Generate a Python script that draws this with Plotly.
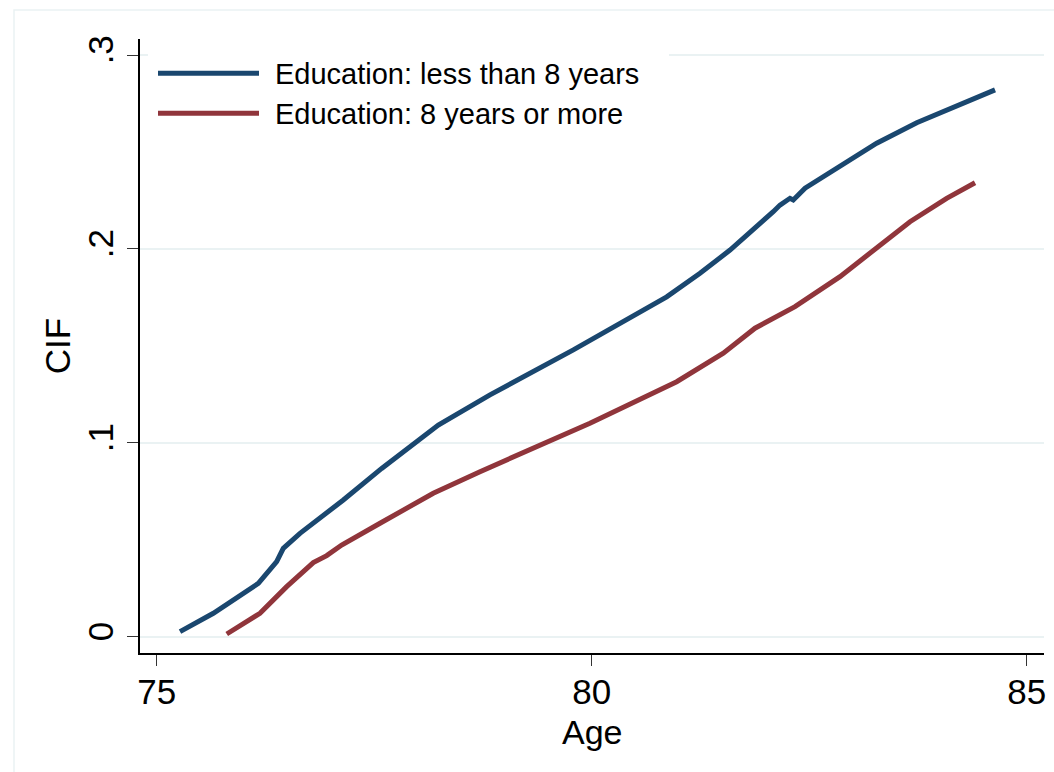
import plotly.graph_objects as go

# Cumulative incidence by age, two education groups
age_low_edu = [75.268, 75.651, 76.168, 76.379, 76.455, 76.647, 77.145, 77.586, 78.237,
               78.831, 79.789, 80.402, 80.862, 81.245, 81.590, 82.087, 82.164, 82.279,
               82.317, 82.452, 82.777, 83.276, 83.736, 84.156, 84.636]
cif_low_edu = [0.0026, 0.0121, 0.0275, 0.0387, 0.0456, 0.0533, 0.0705, 0.0868, 0.1092,
               0.1247, 0.1479, 0.1633, 0.1753, 0.1874, 0.1994, 0.2192, 0.2226, 0.2261,
               0.2252, 0.2313, 0.2407, 0.2545, 0.2651, 0.2733, 0.2820]

age_high_edu = [75.805, 76.187, 76.494, 76.800, 76.954, 77.126, 77.567, 78.179, 78.716,
                79.023, 79.980, 80.977, 81.513, 81.877, 82.337, 82.854, 83.314, 83.659,
                84.080, 84.406]
cif_high_edu = [0.0014, 0.0121, 0.0258, 0.0382, 0.0418, 0.0473, 0.0585, 0.0740, 0.0851,
                0.0911, 0.1101, 0.1315, 0.1462, 0.1591, 0.1702, 0.1857, 0.2020, 0.2140,
                0.2261, 0.2341]

series_names = ["Education: less than 8 years", "Education: 8 years or more"]
series_colors = ["#1A476F", "#90353B"]

x_ticks = [75, 80, 85]
y_ticks = [0, 0.1, 0.2, 0.3]
y_tick_text = ["0", ".1", ".2", ".3"]
x_title = "Age"
y_title = "CIF"

FONT = "Liberation Sans, Arial, sans-serif"
W, H = 1054, 772
L, R, T, B = 140, 10, 39, 119
PW, PH = W - L - R, H - T - B


def px_x(v):
    return (v - L) / PW


def px_y(v):
    return (H - B - v) / PH


fig = go.Figure()
for xs, ys, name, color in [(age_low_edu, cif_low_edu, series_names[0], series_colors[0]),
                            (age_high_edu, cif_high_edu, series_names[1], series_colors[1])]:
    fig.add_trace(go.Scatter(x=xs, y=ys, mode="lines", name=name,
                             line=dict(color=color, width=5), showlegend=False))

shapes = [
    # light outer frame
    dict(type="rect", xref="paper", yref="paper", x0=px_x(14), x1=px_x(1080),
         y0=px_y(800), y1=px_y(10), line=dict(color="#EAF2F3", width=1.5),
         fillcolor="rgba(0,0,0,0)", layer="below"),
    # legend background
    dict(type="rect", xref="paper", yref="paper", x0=px_x(148), x1=px_x(669),
         y0=px_y(135), y1=1.0, line=dict(width=0), fillcolor="white", layer="above"),
]
annotations = []
for i, (name, color) in enumerate(zip(series_names, series_colors)):
    yc = 73.3 + 40 * i
    shapes.append(dict(type="line", xref="paper", yref="paper", x0=px_x(158), x1=px_x(259),
                       y0=px_y(yc), y1=px_y(yc), line=dict(color=color, width=5),
                       layer="above"))
    annotations.append(dict(text=name, xref="paper", yref="paper", x=px_x(273),
                            y=px_y(yc + 1), xanchor="left", yanchor="middle",
                            showarrow=False, font=dict(family=FONT, size=29, color="black")))

# x-axis title placed just under the tick labels
annotations.append(dict(text=x_title, xref="paper", yref="paper", x=0.5, y=px_y(732),
                        xanchor="center", yanchor="middle", showarrow=False,
                        font=dict(family=FONT, size=34, color="black")))

fig.update_layout(
    width=W, height=H,
    margin=dict(l=L, r=R, t=T, b=B, autoexpand=False),
    paper_bgcolor="white", plot_bgcolor="white",
    font=dict(family=FONT, color="black"),
    shapes=shapes, annotations=annotations,
    xaxis=dict(range=[74.808, 85.199], tickvals=x_ticks, ticks="outside", ticklen=11,
               tickwidth=1.2, tickcolor="#333333", showline=True, linecolor="black",
               linewidth=1.5, showgrid=False, zeroline=False, ticklabelstandoff=-4,
               tickfont=dict(size=35, family=FONT)),
    yaxis=dict(range=[-0.0084, 0.30825], tickvals=y_ticks, ticktext=y_tick_text,
               tickangle=-90, ticks="outside", ticklen=11, tickwidth=1.2,
               tickcolor="#333333", showline=True, linecolor="black", linewidth=1.5,
               showgrid=True, gridcolor="#EAF2F3", gridwidth=2, zeroline=False,
               tickfont=dict(size=35, family=FONT),
               title=dict(text=y_title, font=dict(size=35, family=FONT), standoff=0)),
)

fig.write_html("out.html")
